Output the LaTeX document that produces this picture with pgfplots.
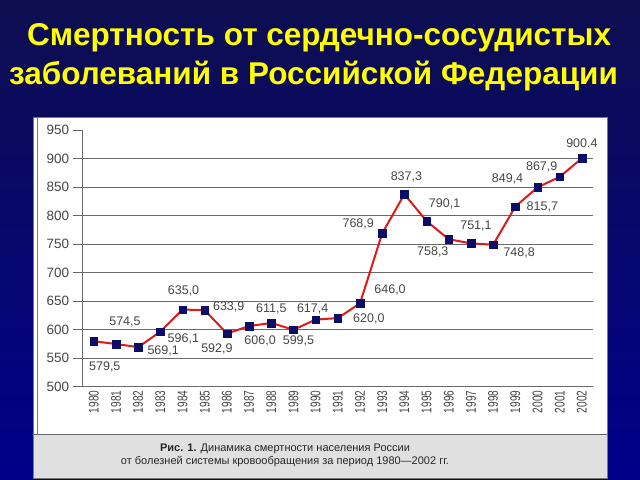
\documentclass[border=0pt]{standalone}
\usepackage{fontspec}
\setmainfont{Liberation Sans}
\usepackage{graphicx}
\usepackage{pgfplots}
\usepackage{pgfplotstable}
\pgfplotsset{compat=1.18}
\definecolor{bgtop}{RGB}{14,14,80}
\definecolor{bgbot}{RGB}{0,0,138}
\definecolor{ttl}{RGB}{255,255,0}
\definecolor{gridc}{RGB}{105,105,105}
\definecolor{txt}{RGB}{70,70,70}
\definecolor{linered}{RGB}{225,25,25}
\definecolor{mk}{RGB}{12,12,105}
\definecolor{capbg}{RGB}{224,224,224}
\definecolor{frame}{RGB}{120,120,120}

% x = year, y = value, lab = printed label, dx/dy = label offset (bp, y up)
\pgfplotstableread{
x y lab dx dy
1980 579.5 579,5 11 -26
1981 574.5 574,5 9 22
1982 569.1 569,1 25 -4
1983 596.1 596,1 23 -7
1984 635.0 635,0 1 19
1985 633.9 633,9 24 3
1986 592.9 592,9 -10 -15
1987 606.0 606,0 11 -15
1988 611.5 611,5 0 14
1989 599.5 599,5 5 -11
1990 617.4 617,4 -3 11
1991 620.0 620,0 31 -1
1992 646.0 646,0 30 13
1993 768.9 768,9 -24 9
1994 837.3 837,3 2 17
1995 790.1 790,1 18 17
1996 758.3 758,3 -16 -13
1997 751.1 751,1 5 17
1998 748.8 748,8 26 -8
1999 815.7 815,7 27 0
2000 849.4 849,4 -30 8
2001 867.9 867,9 -18 10
2002 900.4 900.4 0 15
}\mydata

\begin{document}
\begin{tikzpicture}[x=1bp,y=1bp]
\shade[top color=bgtop, bottom color=bgbot] (0,0) rectangle (640,480);
% white panel
\fill[white] (33,45) rectangle (607,363);
\fill[capbg] (33,2) rectangle (607,45);
\draw[frame, line width=0.8bp] (33,2) rectangle (607,363);
\draw[frame, line width=0.8bp] (37,45) -- (37,363);
\draw[gridc, line width=1bp] (33,45) -- (607,45);
% title
\node[font=\fontsize{31.5bp}{36bp}\selectfont\bfseries, text=ttl, anchor=base, inner sep=0pt] at (319,434) {Смертность от сердечно-сосудистых};
\node[font=\fontsize{31.5bp}{36bp}\selectfont\bfseries, text=ttl, anchor=base, inner sep=0pt] at (313.5,395) {заболеваний в Российской Федерации};
% caption
\node[font=\fontsize{11bp}{13bp}\selectfont, text=black!85, anchor=base] at (285,28) {\textbf{Рис. 1.} Динамика смертности населения России};
\node[font=\fontsize{11bp}{13bp}\selectfont, text=black!85, anchor=base] at (285,15) {от болезней системы кровообращения за период 1980—2002 гг.};

\begin{axis}[
  at={(82.7bp,93.5bp)}, anchor=south west,
  scale only axis, width=510.3bp, height=256.5bp,
  xmin=1979.5, xmax=2002.5, ymin=500, ymax=950,
  axis lines*=left,
  axis line style={gridc, line width=0.9bp},
  ytick={500,550,...,900},
  extra y ticks={950},
  extra y tick style={grid=none},
  ymajorgrids,
  grid style={gridc, line width=0.9bp},
  tick align=outside, major tick length=10bp,
  tick style={gridc, line width=0.9bp},
  xtick style={draw=none},
  xtick={1980,...,2002},
  xticklabel style={yshift=6bp, rotate=90, anchor=east, inner sep=0pt,
    font=\fontsize{14bp}{16bp}\selectfont, text=txt},
  xticklabel={\scalebox{0.72}[1]{\pgfmathprintnumber[fixed,precision=0,1000 sep={}]{\tick}}},
  yticklabel style={font=\fontsize{13.5bp}{15bp}\selectfont, text=txt},
  /pgf/number format/assume math mode=true,
  clip=false,
]
\addplot[linered, line width=2bp, mark=square*, mark size=3.8bp,
  mark options={fill=mk, draw=mk, line width=0.4bp},
  nodes near coords, point meta=explicit symbolic,
  visualization depends on={\thisrow{dx} \as \ldx},
  visualization depends on={\thisrow{dy} \as \ldy},
  every node near coord/.append style={anchor=center, xshift=\ldx bp, yshift=\ldy bp,
    font=\fontsize{12.5bp}{14bp}\selectfont, text=txt, inner sep=0pt}]
  table[x=x, y=y, meta=lab] {\mydata};
\end{axis}
\end{tikzpicture}
\end{document}
